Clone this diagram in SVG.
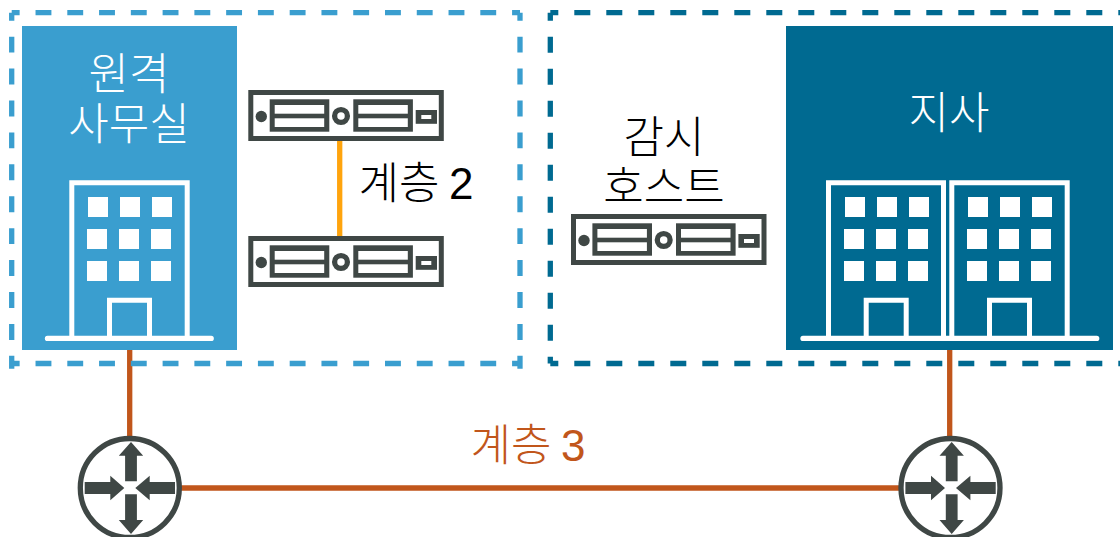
<svg xmlns="http://www.w3.org/2000/svg" width="1120" height="537" viewBox="0 0 1120 537">
<style>
.t{font-family:"Noto Sans CJK KR","Liberation Sans",sans-serif;font-weight:300;font-size:44px;text-anchor:middle}
.n{font-family:"Liberation Sans","Noto Sans CJK KR",sans-serif}
.w{fill:#fff}
.o{fill:none;stroke:#fff;stroke-width:5}
.bs{fill:none;stroke:#fff;stroke-width:5.3;stroke-linecap:round}
.dash{fill:none;stroke-width:5.3}
.g{fill:#3f4745}
.l3{stroke:#c1561b;stroke-width:5.3;fill:none}
</style>
<defs>
<g id="srv">
<rect x="250.8" y="92.5" width="190.500" height="46" fill="#fff" stroke="#3f4745" stroke-width="5"/>
<circle class="g" cx="261.300" cy="116.500" r="5.700"/>
<rect class="g" x="269.700" y="99.300" width="59.600" height="32.400"/>
<rect class="w" x="274.700" y="105" width="49.500" height="8.700"/>
<rect class="w" x="274.700" y="118.300" width="49.500" height="8.700"/>
<circle cx="341" cy="116" r="6.400" fill="#fff" stroke="#3f4745" stroke-width="5.300"/>
<rect class="g" x="353.300" y="99.300" width="59.600" height="32.400"/>
<rect class="w" x="358.300" y="105" width="49.500" height="8.700"/>
<rect class="w" x="358.300" y="118.300" width="49.500" height="8.700"/>
<rect class="g" x="415.700" y="110" width="21.300" height="13.800"/>
<rect class="w" x="421.300" y="115" width="10" height="4"/>
</g>
<g id="rt">
<circle cx="0" cy="0" r="49.500" fill="#fff" stroke="#3f4745" stroke-width="5.300"/>
<path class="g" d="M-4.700-6.700V-32.300H-11L1.200-46 13.400-32.300H7.100V-6.700ZM-4.700 6.300V32H-11L1.200 46 13.400 32H7.100V6.300ZM-45.100-5.900H-19.500V-12.200L-5.500 0-19.500 12.200V5.900H-45.100ZM45.200-5.900H19.900V-12.200L5.500 0 19.900 12.200V5.900H45.200Z"/>
</g>
</defs>
<g id="connectors">
<path class="l3" d="M129.700 342V440M949.700 342V440M180 488H900"/>
<path d="M339.700 141V237" fill="none" stroke="#ffa40d" stroke-width="5.300"/>
</g>
<g id="remote-office-zone">
<path class="dash" stroke="#3a9ecf" stroke-dasharray="15.880 15.890" stroke-dashoffset="7.940" d="M11.700 12.700H520M11.700 363.500H520"/>
<path class="dash" stroke="#3a9ecf" stroke-dasharray="15.960 15.960" stroke-dashoffset="7.980" d="M11.700 10V366M520 10V366" transform="translate(0,2.700)"/>
</g>
<g id="branch-zone">
<path class="dash" stroke="#006a91" stroke-dasharray="16 16" stroke-dashoffset="8" d="M550.300 12.700H1125M550.300 363.500H1125M550.300 12.700V363.500"/>
</g>
<g id="remote-office">
<rect x="22" y="26" width="215" height="324" fill="#3a9ecf"/>
<text class="t" fill="#fff" x="129" y="90">원격</text>
<text class="t" fill="#fff" x="129" y="140">사무실</text>
<path class="o" d="M71.800 338V182.700H187.200V338M109.500 338V300.200H149.500V338"/>
<path class="bs" d="M47.500 338.400H211.200"/>
<g class="w"><rect x="88" y="197" width="20" height="20"/><rect x="120" y="197" width="20" height="20"/><rect x="152" y="197" width="20" height="20"/><rect x="87" y="229" width="20" height="20"/><rect x="119" y="229" width="20" height="20"/><rect x="151" y="229" width="20" height="20"/><rect x="87" y="261" width="20" height="20"/><rect x="119" y="261" width="20" height="20"/><rect x="151" y="261" width="20" height="20"/></g>
</g>
<g id="branch">
<rect x="786" y="26" width="327" height="324" fill="#006a91"/>
<text class="t" fill="#fff" x="949" y="129">지사</text>
<path class="o" d="M828.500 338V182.700H943.500V338M866.200 338V300.200H906.200V338M951.800 338V182.700H1067.200V338M989.500 338V300.200H1029.500V338"/>
<path class="bs" d="M803 338.400H1096.700"/>
<g class="w"><rect x="845" y="197" width="20" height="20"/><rect x="877" y="197" width="20" height="20"/><rect x="909" y="197" width="20" height="20"/><rect x="844" y="229" width="20" height="20"/><rect x="876" y="229" width="20" height="20"/><rect x="908" y="229" width="20" height="20"/><rect x="844" y="261" width="20" height="20"/><rect x="876" y="261" width="20" height="20"/><rect x="908" y="261" width="20" height="20"/><rect x="968" y="197" width="20" height="20"/><rect x="1000" y="197" width="20" height="20"/><rect x="1032" y="197" width="20" height="20"/><rect x="967" y="229" width="20" height="20"/><rect x="999" y="229" width="20" height="20"/><rect x="1031" y="229" width="20" height="20"/><rect x="967" y="261" width="20" height="20"/><rect x="999" y="261" width="20" height="20"/><rect x="1031" y="261" width="20" height="20"/></g>
</g>
<g id="server-top"><use href="#srv"/></g>
<g id="server-bottom"><use href="#srv" y="146"/></g>
<g id="monitor-host"><use href="#srv" x="322.700" y="124"/>
<text class="t" fill="#000" x="664" y="153">감시</text>
<text class="t" fill="#000" x="664" y="203">호스트</text></g>
<text class="t" fill="#000" x="416" y="199">계층 <tspan class="n">2</tspan></text>
<text class="t" fill="#c1561b" x="528" y="461">계층 <tspan class="n">3</tspan></text>
<g id="router-left"><use href="#rt" x="129.800" y="488"/></g>
<g id="router-right"><use href="#rt" x="950.500" y="488"/></g>
</svg>
